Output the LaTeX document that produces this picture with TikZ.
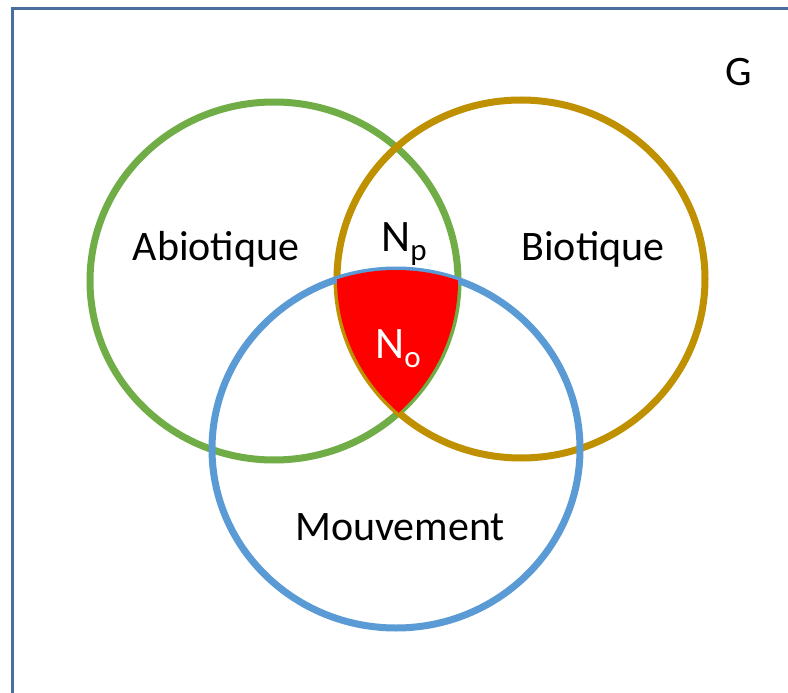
\documentclass[tikz,border=0pt]{standalone}
\usepackage{fontspec}
\setmainfont{Carlito}
\usepackage{xcolor}
\usepackage{tikz}
\usetikzlibrary{positioning}

\definecolor{abioGreen}{HTML}{70AD47}
\definecolor{bioGold}{HTML}{BF9000}
\definecolor{mouvBlue}{HTML}{5B9BD5}
\definecolor{frameBlue}{HTML}{4A6E9E}

\begin{document}
\begin{tikzpicture}
[x=1pt,y=-1pt]
\tikzset{
	ring/.style = {line width = 7pt},
	setlabel/.style = {anchor = base, inner sep = 0, font = \fontsize{42}{48}\selectfont},
	nichelabel/.style = {anchor = base, inner sep = 0, font = \fontsize{45}{50}\selectfont}
}
\newcommand{\nsub}[1]{\raisebox{-0.22em}{\fontsize{31}{32}\selectfont #1}}

\useasboundingbox (0,0) rectangle (788,693);
\fill [white] (0,0) rectangle (788,693);
\draw [frameBlue, line width = 3pt] (12.5,700) -- (12.5,9) -- (800,9);

\draw [ring, abioGreen] (274,281) ellipse [x radius = 184pt, y radius = 179pt];
\draw [ring, bioGold] (521,279) ellipse [x radius = 184pt, y radius = 179pt];
\draw [ring, mouvBlue] (396,449) ellipse [x radius = 184pt, y radius = 179pt];

\begin{scope}
	\clip (274,281) ellipse [x radius = 184pt, y radius = 179pt];
	\clip (521,279) ellipse [x radius = 184pt, y radius = 179pt];
	\fill [red] (396,449) ellipse [x radius = 184pt, y radius = 179pt];
\end{scope}

\node (abio) [setlabel] at (216,260) {Abiotique};
\node (bio) [setlabel] at (593,260) {Biotique};
\node (mouv) [setlabel] at (400,540) {Mouvement};
\node (G) [setlabel] at (739,85) {G};
\node (Np) [nichelabel] at (404,251) {N\nsub{p}};
\node (No) [nichelabel, text = white] at (398,358) {N\nsub{o}};
\end{tikzpicture}
\end{document}
